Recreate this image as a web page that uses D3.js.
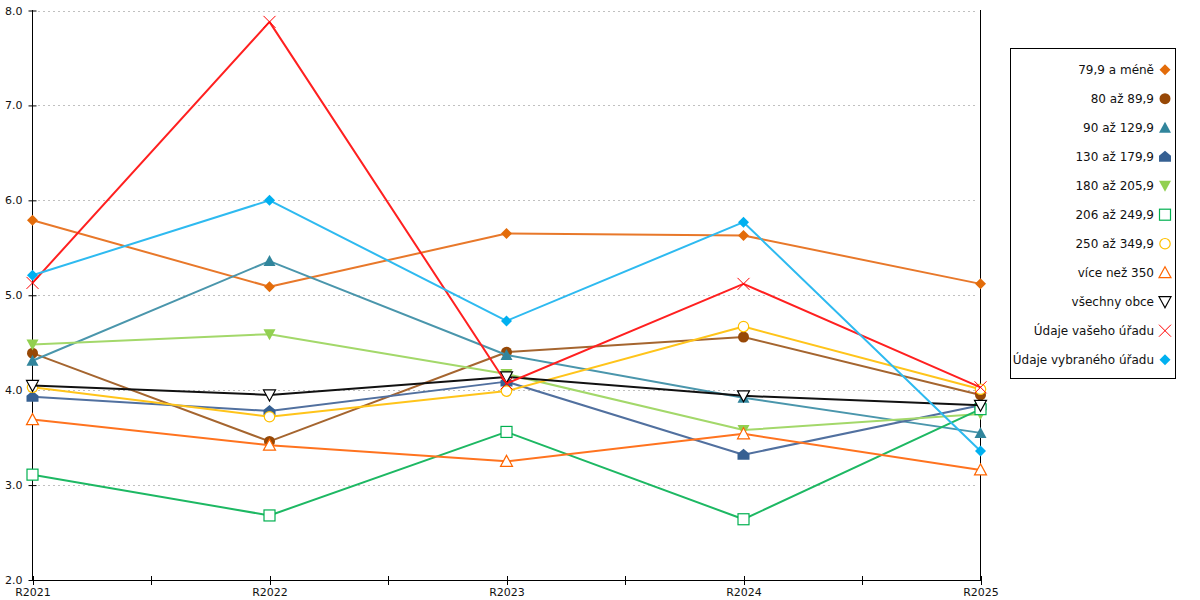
<!DOCTYPE html>
<html>
<head>
<meta charset="utf-8">
<script src="https://cdn.jsdelivr.net/npm/d3@7"></script>
<style>
html,body{margin:0;padding:0;background:#fff;}
svg{display:block;font-family:"DejaVu Sans",Verdana,sans-serif;}
</style>
</head>
<body>
<svg id="chart" width="1200" height="600"></svg>
<script>
const categories = ["R2021","R2022","R2023","R2024","R2025"];
const yTicks = [2,3,4,5,6,7,8];

const s799   = [5.79, 5.09, 5.65, 5.63, 5.12];
const s80    = [4.39, 3.46, 4.40, 4.56, 3.95];
const s90    = [4.31, 5.36, 4.37, 3.92, 3.55];
const s130   = [3.93, 3.78, 4.09, 3.32, 3.84];
const s180   = [4.48, 4.59, 4.17, 3.58, 3.75];
const s206   = [3.11, 2.68, 3.56, 2.64, 3.80];
const s250   = [4.03, 3.72, 3.99, 4.67, 4.01];
const s350   = [3.69, 3.42, 3.25, 3.54, 3.16];
const sAll   = [4.05, 3.95, 4.14, 3.94, 3.84];
const sVase  = [5.13, 7.88, 4.07, 5.12, 4.03];
const sVybr  = [5.21, 6.00, 4.73, 5.77, 3.36];

const seriesNames = ["79,9 a méně","80 až 89,9","90 až 129,9","130 až 179,9","180 až 205,9","206 až 249,9","250 až 349,9","více než 350","všechny obce","Údaje vašeho úřadu","Údaje vybraného úřadu"];
const seriesValues = [s799, s80, s90, s130, s180, s206, s250, s350, sAll, sVase, sVybr];
const markerColors = ["#E36C0A","#974806","#31859C","#366092","#92D050","#00B050","#FFC000","#FF6600","#000000","#FF0000","#00B0F0"];
const lineColors   = ["#E8782A","#A5652F","#4A96AC","#51709F","#A3D86A","#1DB863","#FFC41A","#FF731F","#111111","#FF2020","#2EBAF0"];
const markerShapes = ["diamond","circle","triangle","house","triangleDown","squareOpen","circleOpen","triangleOpen","triangleDownOpen","cross","diamond"];

const svg = d3.select("#chart");
const x = d3.scalePoint().domain(categories).range([32.5, 980.5]);
const y = d3.scaleLinear().domain([2, 8]).range([580, 10.5]);

// grid
svg.append("g").selectAll("line").data(yTicks.filter(t => t > 2)).join("line")
  .attr("x1", 38).attr("x2", 977)
  .attr("y1", d => Math.round(y(d)) + 0.5).attr("y2", d => Math.round(y(d)) + 0.5)
  .attr("stroke", "#c0c0c0").attr("stroke-width", 1).attr("stroke-dasharray", "2,3");

// y axis
const yAxis = svg.append("g").attr("transform", "translate(32.5,0)")
  .call(d3.axisLeft(y).tickValues(yTicks).tickFormat(d3.format(".1f")).tickSize(4).tickPadding(6));
yAxis.select(".domain").remove();
yAxis.selectAll(".tick line").attr("x2", 4).attr("x1", -4).attr("stroke", "#000");
yAxis.selectAll("text").attr("font-size", 11).attr("fill", "#111").attr("font-family", "DejaVu Sans, Verdana, sans-serif");
svg.append("line").attr("x1", 32.5).attr("x2", 32.5).attr("y1", 10).attr("y2", 581).attr("stroke", "#000");

// right axis line
svg.append("line").attr("x1", 980.5).attr("x2", 980.5).attr("y1", 10).attr("y2", 581).attr("stroke", "#000");

// x axis
const xAxis = svg.append("g").attr("transform", "translate(0,580.5)")
  .call(d3.axisBottom(x).tickSize(0).tickPadding(8));
xAxis.select(".domain").remove();
xAxis.selectAll("text").attr("font-size", 11).attr("fill", "#111").attr("font-family", "DejaVu Sans, Verdana, sans-serif");
svg.append("line").attr("x1", 32.5).attr("x2", 980.5).attr("y1", 580.5).attr("y2", 580.5).attr("stroke", "#000");
// ticks at categories and midpoints
const step = x.step();
const tickPos = [];
categories.forEach((c, i) => { tickPos.push(x(c)); if (i < categories.length - 1) tickPos.push(x(c) + step / 2); });
svg.append("g").selectAll("line").data(tickPos).join("line")
  .attr("x1", d => Math.round(d) + 0.5).attr("x2", d => Math.round(d) + 0.5)
  .attr("y1", 576).attr("y2", 585).attr("stroke", "#000");

function drawMarker(g, shape, color, cx, cy) {
  const r = 5.5;
  switch (shape) {
    case "diamond":
      g.append("path").attr("d", `M${cx},${cy - r}L${cx + r},${cy}L${cx},${cy + r}L${cx - r},${cy}Z`).attr("fill", color); break;
    case "circle":
      g.append("circle").attr("cx", cx).attr("cy", cy).attr("r", 5.5).attr("fill", color); break;
    case "triangle":
      g.append("path").attr("d", `M${cx},${cy - 6}L${cx + 6},${cy + 5}L${cx - 6},${cy + 5}Z`).attr("fill", color); break;
    case "house":
      g.append("path").attr("d", `M${cx},${cy - 6}L${cx + 6},${cy - 1}L${cx + 6},${cy + 5}L${cx - 6},${cy + 5}L${cx - 6},${cy - 1}Z`).attr("fill", color); break;
    case "triangleDown":
      g.append("path").attr("d", `M${cx - 6},${cy - 5}L${cx + 6},${cy - 5}L${cx},${cy + 6}Z`).attr("fill", color); break;
    case "squareOpen":
      g.append("rect").attr("x", cx - 5.5).attr("y", cy - 5.5).attr("width", 11).attr("height", 11).attr("fill", "#fff").attr("stroke", color).attr("stroke-width", 1.2); break;
    case "circleOpen":
      g.append("circle").attr("cx", cx).attr("cy", cy).attr("r", 5.2).attr("fill", "#fff").attr("stroke", color).attr("stroke-width", 1.2); break;
    case "triangleOpen":
      g.append("path").attr("d", `M${cx},${cy - 6}L${cx + 6},${cy + 5}L${cx - 6},${cy + 5}Z`).attr("fill", "#fff").attr("stroke", color).attr("stroke-width", 1.2); break;
    case "triangleDownOpen":
      g.append("path").attr("d", `M${cx - 6},${cy - 5}L${cx + 6},${cy - 5}L${cx},${cy + 6}Z`).attr("fill", "#fff").attr("stroke", color).attr("stroke-width", 1.2); break;
    case "cross":
      g.append("path").attr("d", `M${cx - 6},${cy - 6}L${cx + 6},${cy + 6}M${cx + 6},${cy - 6}L${cx - 6},${cy + 6}`).attr("fill", "none").attr("stroke", color).attr("stroke-width", 1); break;
  }
}

const line = d3.line().x((d, i) => x(categories[i])).y(d => y(d));
seriesValues.forEach((vals, si) => {
  const g = svg.append("g");
  g.append("path").datum(vals).attr("d", line).attr("fill", "none")
    .attr("stroke", lineColors[si]).attr("stroke-width", 2).attr("stroke-linejoin", "round");
  vals.forEach((v, i) => drawMarker(g, markerShapes[si], markerColors[si], x(categories[i]), y(v)));
});

// legend
const lg = svg.append("g");
lg.append("rect").attr("x", 1010.5).attr("y", 48.5).attr("width", 165).attr("height", 330)
  .attr("fill", "#fff").attr("stroke", "#000").attr("stroke-width", 1);
seriesNames.forEach((name, i) => {
  const cy = 69.7 + i * 29;
  lg.append("text").attr("x", 1154).attr("y", cy).attr("dy", "0.35em").attr("text-anchor", "end")
    .attr("font-size", 12).attr("fill", "#111").text(name);
  drawMarker(lg, markerShapes[i], markerColors[i], 1165, cy);
});
</script>
</body>
</html>
